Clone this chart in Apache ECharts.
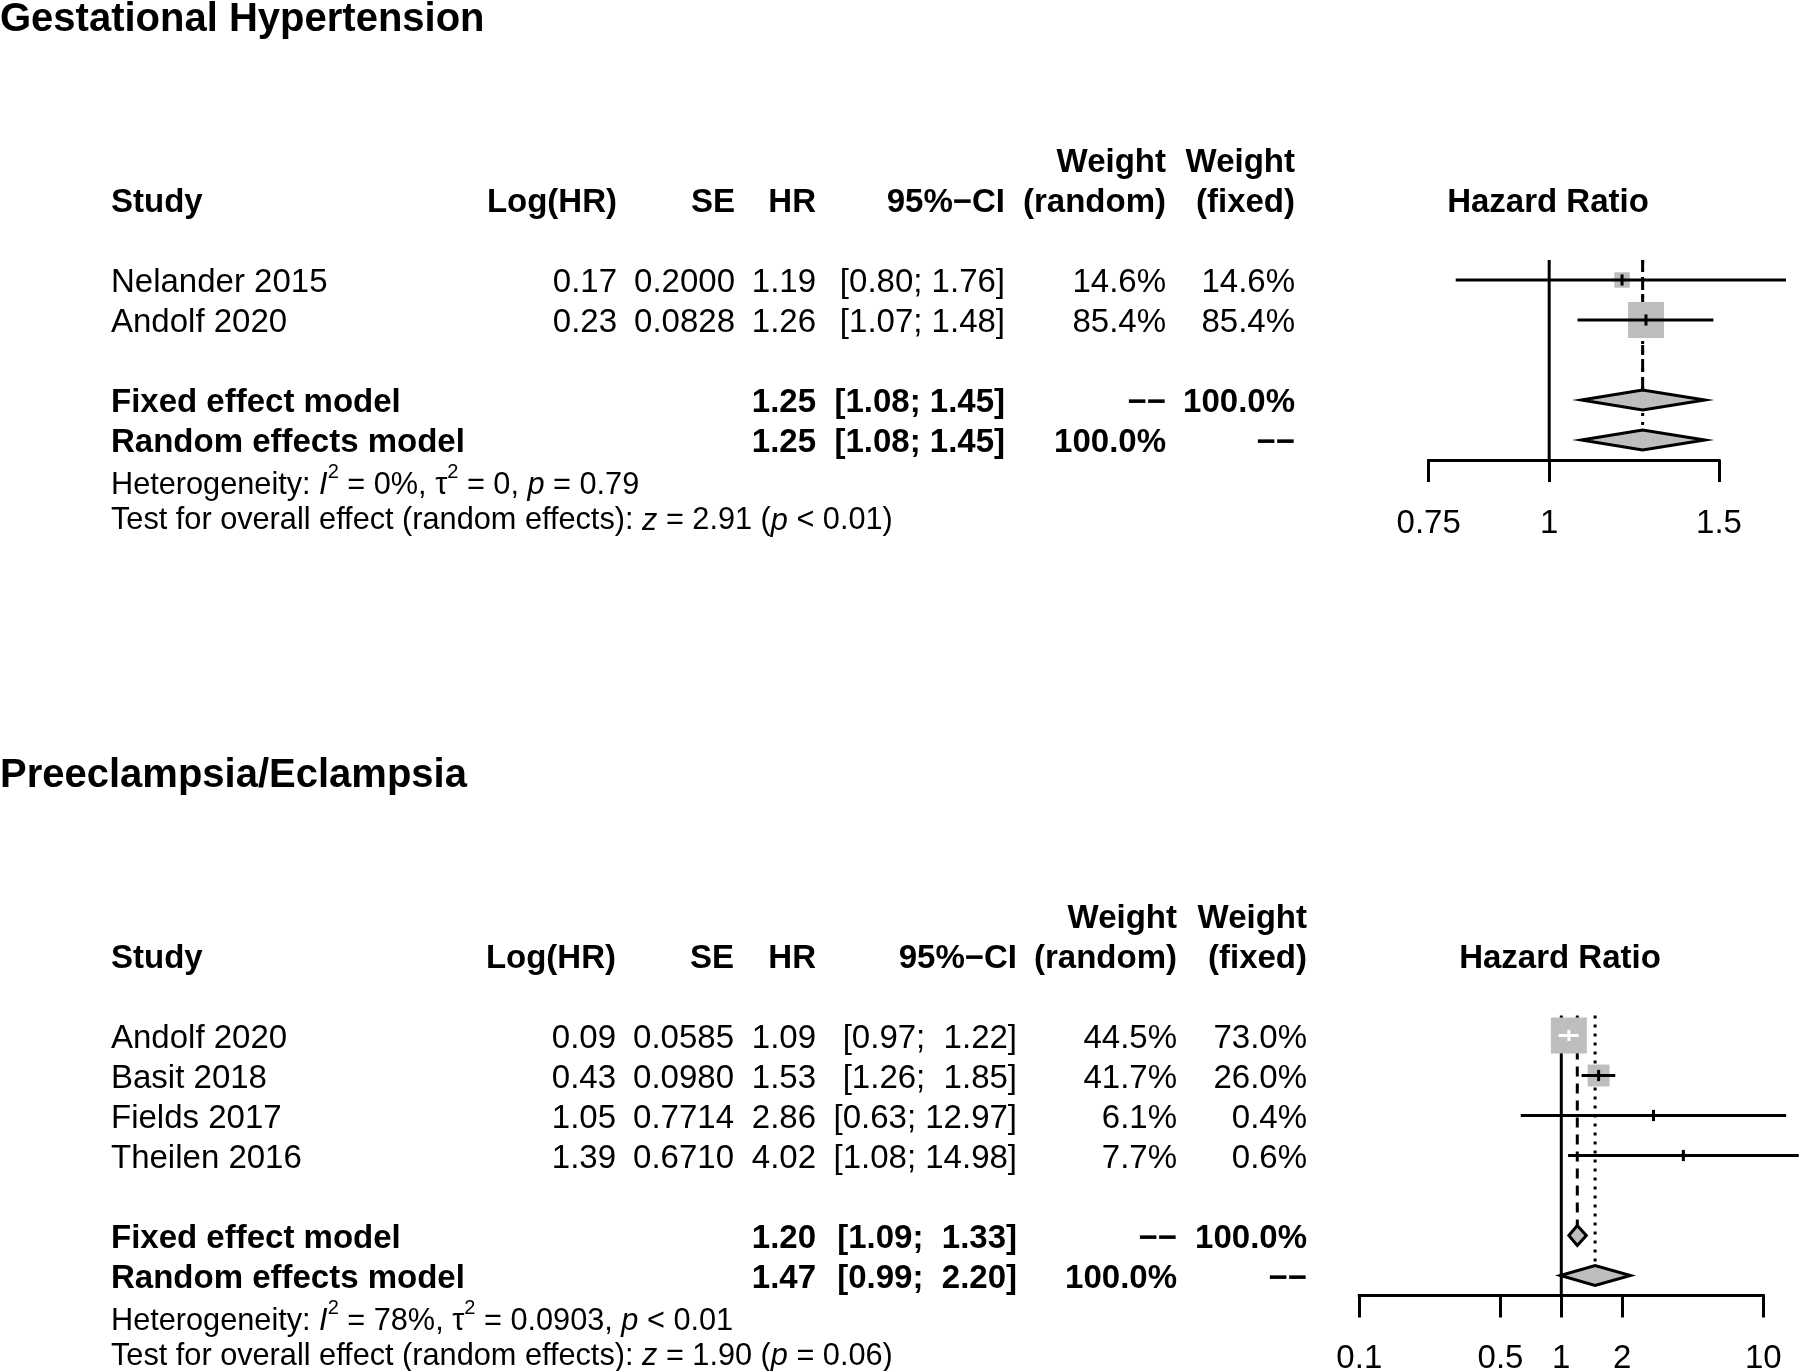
<!DOCTYPE html>
<html>
<head>
<meta charset="utf-8">
<script src="https://cdn.jsdelivr.net/npm/echarts@6/dist/echarts.min.js"></script>
<style>
html,body{margin:0;padding:0;background:#fff;}
#chart{width:1800px;height:1371px;}
</style>
</head>
<body>
<div id="chart"></div>
<script>
// ---------------- DATA: Gestational Hypertension ----------------
const ghTitle = 'Gestational Hypertension';
const ghStudies = ['Nelander 2015', 'Andolf 2020'];
const ghLogHR = [0.17, 0.23];
const ghSE = [0.2000, 0.0828];
const ghHR = [1.19, 1.26];
const ghLower = [0.80, 1.07];
const ghUpper = [1.76, 1.48];
const ghWRandom = [14.6, 85.4];
const ghWFixed = [14.6, 85.4];
const ghModelHR = [1.25, 1.25];      // fixed, random
const ghModelLower = [1.08, 1.08];
const ghModelUpper = [1.45, 1.45];
const ghTicks = [0.75, 1, 1.5];
const ghTickLabels = ['0.75', '1', '1.5'];
const ghHet = { i2: '0%', tau2: '0', p: '= 0.79', z: '2.91', pz: '< 0.01' };

// ---------------- DATA: Preeclampsia/Eclampsia ----------------
const peTitle = 'Preeclampsia/Eclampsia';
const peStudies = ['Andolf 2020', 'Basit 2018', 'Fields 2017', 'Theilen 2016'];
const peLogHR = [0.09, 0.43, 1.05, 1.39];
const peSE = [0.0585, 0.0980, 0.7714, 0.6710];
const peHR = [1.09, 1.53, 2.86, 4.02];
const peLower = [0.97, 1.26, 0.63, 1.08];
const peUpper = [1.22, 1.85, 12.97, 14.98];
const peWRandom = [44.5, 41.7, 6.1, 7.7];
const peWFixed = [73.0, 26.0, 0.4, 0.6];
const peModelHR = [1.20, 1.47];
const peModelLower = [1.09, 0.99];
const peModelUpper = [1.33, 2.20];
const peTicks = [0.1, 0.5, 1, 2, 10];
const peTickLabels = ['0.1', '0.5', '1', '2', '10'];
const peHet = { i2: '78%', tau2: '0.0903', p: '< 0.01', z: '1.90', pz: '= 0.06' };

const modelNames = ['Fixed effect model', 'Random effects model'];

// ---------------- LAYOUT ----------------
const FONT = '"Liberation Sans", Arial, Helvetica, sans-serif';
const BOX_FILL = '#bebebe';
const ROW_PX = 40;
const BOX_MAX = 35;
const HET_FS = 30.7;

const panels = [
  {
    title: ghTitle, studies: ghStudies, logHR: ghLogHR, se: ghSE, hr: ghHR, lower: ghLower, upper: ghUpper,
    wRandom: ghWRandom, wFixed: ghWFixed, modelHR: ghModelHR, modelLower: ghModelLower, modelUpper: ghModelUpper,
    ticks: ghTicks, tickLabels: ghTickLabels, het: ghHet,
    top: 240, plotLeft: 1428.7, plotWidth: 290.3,
    cols: { study: 111, logHR: 617, se: 735, hr: 816, ci: 1005, wr: 1166, wf: 1295 }, headerX: 1548
  },
  {
    title: peTitle, studies: peStudies, logHR: peLogHR, se: peSE, hr: peHR, lower: peLower, upper: peUpper,
    wRandom: peWRandom, wFixed: peWFixed, modelHR: peModelHR, modelLower: peModelLower, modelUpper: peModelUpper,
    ticks: peTicks, tickLabels: peTickLabels, het: peHet,
    top: 995.5, plotLeft: 1359.3, plotWidth: 404,
    cols: { study: 111, logHR: 616, se: 734, hr: 816, ci: 1017, wr: 1177, wf: 1307 }, headerX: 1560
  }
];

const grids = [], xAxes = [], yAxes = [], series = [];

function padL(s, n) { while (s.length < n) s = ' ' + s; return s; }

panels.forEach((P, gi) => {
  const n = P.studies.length;
  const fixedRow = n + 2, randomRow = n + 3, maxRow = n + 3.5;
  const ticksLn = P.ticks.map(Math.log);

  grids.push({
    left: P.plotLeft, top: P.top, width: P.plotWidth, height: maxRow * ROW_PX,
    containLabel: false, outerBoundsMode: 'none'
  });
  xAxes.push({
    type: 'value', gridIndex: gi, position: 'bottom',
    min: ticksLn[0], max: ticksLn[ticksLn.length - 1],
    axisLine: { show: true, onZero: false, lineStyle: { color: '#000', width: 3, cap: 'square' } },
    axisTick: { show: true, customValues: ticksLn, length: 22, inside: false, lineStyle: { color: '#000', width: 3 } },
    axisLabel: {
      show: true, customValues: ticksLn, margin: 47, color: '#000', fontSize: 33, fontFamily: FONT,
      formatter: v => {
        let k = 0, best = Infinity;
        ticksLn.forEach((t, i) => { const d = Math.abs(t - v); if (d < best) { best = d; k = i; } });
        return P.tickLabels[k];
      }
    },
    splitLine: { show: false }
  });
  yAxes.push({ type: 'value', gridIndex: gi, min: 0, max: maxRow, inverse: true, show: false, splitLine: { show: false } });

  // reference / pooled vertical lines
  const vData = [
    [Math.log(1), 0.5, maxRow, 0],
    [Math.log(P.modelHR[0]), 0.5, fixedRow, 1],
    [Math.log(P.modelHR[1]), 0.5, randomRow, 2]
  ];
  const dashes = [null, [10, 7], [3, 6]];
  series.push({
    type: 'custom', xAxisIndex: gi, yAxisIndex: gi, silent: true, animation: false, z: 1,
    data: vData,
    renderItem: (params, api) => {
      const a = api.coord([api.value(0), api.value(1)]);
      const b = api.coord([api.value(0), api.value(2)]);
      const d = dashes[api.value(3)];
      return { type: 'line', shape: { x1: a[0], y1: a[1], x2: b[0], y2: b[1] },
        style: { stroke: '#000', lineWidth: 3, lineDash: d || null } };
    }
  });

  // study squares + CIs
  const wMax = Math.max.apply(null, P.wFixed);
  const sData = P.studies.map((s, i) => [Math.log(P.hr[i]), i + 1, Math.log(P.lower[i]), Math.log(P.upper[i]), P.wFixed[i]]);
  series.push({
    type: 'custom', xAxisIndex: gi, yAxisIndex: gi, silent: true, animation: false, z: 3,
    data: sData,
    renderItem: (params, api) => {
      const c = api.coord([api.value(0), api.value(1)]);
      const l = api.coord([api.value(2), api.value(1)]);
      const h = api.coord([api.value(3), api.value(1)]);
      const s = BOX_MAX * Math.sqrt(api.value(4) / wMax) + 1;
      const inside = l[0] >= c[0] - s / 2 && h[0] <= c[0] + s / 2;
      const col = inside ? '#fff' : '#000';
      const th = api.size([0, 0.14])[1];
      return { type: 'group', children: [
        { type: 'rect', shape: { x: c[0] - s / 2, y: c[1] - s / 2, width: s, height: s }, style: { fill: BOX_FILL } },
        { type: 'line', shape: { x1: l[0], y1: c[1], x2: h[0], y2: c[1] }, style: { stroke: col, lineWidth: 3 } },
        { type: 'line', shape: { x1: c[0], y1: c[1] - th, x2: c[0], y2: c[1] + th }, style: { stroke: col, lineWidth: 3 } }
      ] };
    }
  });

  // pooled diamonds
  const dData = [0, 1].map(k => [Math.log(P.modelHR[k]), k === 0 ? fixedRow : randomRow, Math.log(P.modelLower[k]), Math.log(P.modelUpper[k])]);
  series.push({
    type: 'custom', xAxisIndex: gi, yAxisIndex: gi, silent: true, animation: false, z: 4,
    data: dData,
    renderItem: (params, api) => {
      const c = api.coord([api.value(0), api.value(1)]);
      const l = api.coord([api.value(2), api.value(1)]);
      const h = api.coord([api.value(3), api.value(1)]);
      const hh = api.size([0, 0.25])[1];
      return { type: 'polygon', shape: { points: [[l[0], c[1]], [c[0], c[1] - hh], [h[0], c[1]], [c[0], c[1] + hh]] },
        style: { fill: BOX_FILL, stroke: '#000', lineWidth: 3, lineJoin: 'miter' } };
    }
  });

  // ---------- table text ----------
  const C = P.cols;
  const allLo = P.lower.concat(P.modelLower).map(v => v.toFixed(2));
  const allHi = P.upper.concat(P.modelUpper).map(v => v.toFixed(2));
  const wLo = Math.max.apply(null, allLo.map(s => s.length));
  const wHi = Math.max.apply(null, allHi.map(s => s.length));
  const ci = (lo, hi) => '[' + padL(lo.toFixed(2), wLo) + '; ' + padL(hi.toFixed(2), wHi) + ']';
  const cell = (x, text, align, bold, size, extra) => Object.assign({ x, text, align: align || 'right', bold: !!bold, size: size || 33 }, extra || {});

  const rows = [];
  rows.push({ row: -5.6, cells: [cell(0, P.title, 'left', true, 40)] });
  rows.push({ row: -2, cells: [cell(C.wr, 'Weight', 'right', true), cell(C.wf, 'Weight', 'right', true)] });
  rows.push({ row: -1, cells: [
    cell(C.study, 'Study', 'left', true), cell(C.logHR, 'Log(HR)', 'right', true), cell(C.se, 'SE', 'right', true),
    cell(C.hr, 'HR', 'right', true), cell(C.ci, '95%\u2212CI', 'right', true), cell(C.wr, '(random)', 'right', true),
    cell(C.wf, '(fixed)', 'right', true), cell(P.headerX, 'Hazard Ratio', 'center', true)
  ] });
  P.studies.forEach((s, i) => {
    rows.push({ row: i + 1, cells: [
      cell(C.study, s, 'left'), cell(C.logHR, P.logHR[i].toFixed(2)), cell(C.se, P.se[i].toFixed(4)),
      cell(C.hr, P.hr[i].toFixed(2)), cell(C.ci, ci(P.lower[i], P.upper[i])),
      cell(C.wr, P.wRandom[i].toFixed(1) + '%'), cell(C.wf, P.wFixed[i].toFixed(1) + '%')
    ] });
  });
  [0, 1].forEach(k => {
    rows.push({ row: k === 0 ? fixedRow : randomRow, cells: [
      cell(C.study, modelNames[k], 'left', true), cell(C.hr, P.modelHR[k].toFixed(2), 'right', true),
      cell(C.ci, ci(P.modelLower[k], P.modelUpper[k]), 'right', true),
      cell(C.wr, k === 0 ? '\u2212\u2212' : '100.0%', 'right', true),
      cell(C.wf, k === 0 ? '100.0%' : '\u2212\u2212', 'right', true)
    ] });
  });
  const rich = {
    it: { fontFamily: FONT, fontSize: HET_FS, fontStyle: 'italic', lineHeight: 32, fill: '#000' },
    sp: { fontFamily: FONT, fontSize: 20, lineHeight: 20, padding: [0, 0, 26, 0], fill: '#000' }
  };
  const H = P.het;
  rows.push({ row: randomRow + 1.12, cells: [cell(C.study,
    'Heterogeneity: {it|I}{sp|2} = ' + H.i2 + ', \u03C4{sp|2} = ' + H.tau2 + ', {it|p} ' + H.p, 'left', false, HET_FS, { rich })] });
  rows.push({ row: randomRow + 2.0, cells: [cell(C.study,
    'Test for overall effect (random effects): {it|z} = ' + H.z + ' ({it|p} ' + H.pz + ')', 'left', false, HET_FS, { rich })] });

  series.push({
    type: 'custom', xAxisIndex: gi, yAxisIndex: gi, silent: true, animation: false, z: 5,
    data: rows.map(r => [0, r.row]),
    renderItem: (params, api) => {
      const r = rows[params.dataIndex];
      const y = api.coord([0, api.value(1)])[1];
      return { type: 'group', children: r.cells.map(c => {
        const st = { text: c.text, fill: '#000', fontFamily: FONT, fontSize: c.size,
          fontWeight: c.bold ? 'bold' : 'normal', align: c.align, verticalAlign: 'middle' };
        let dy = c.size * 0.1;
        if (c.rich) { st.rich = c.rich; st.lineHeight = 32; dy = 1; }
        return { type: 'text', x: c.x, y: y + dy, silent: true, style: st };
      }) };
    }
  });
});

const chart = echarts.init(document.getElementById('chart'), null, { renderer: 'canvas' });
chart.setOption({
  backgroundColor: '#fff',
  animation: false,
  grid: grids,
  xAxis: xAxes,
  yAxis: yAxes,
  series: series
});
</script>
</body>
</html>
